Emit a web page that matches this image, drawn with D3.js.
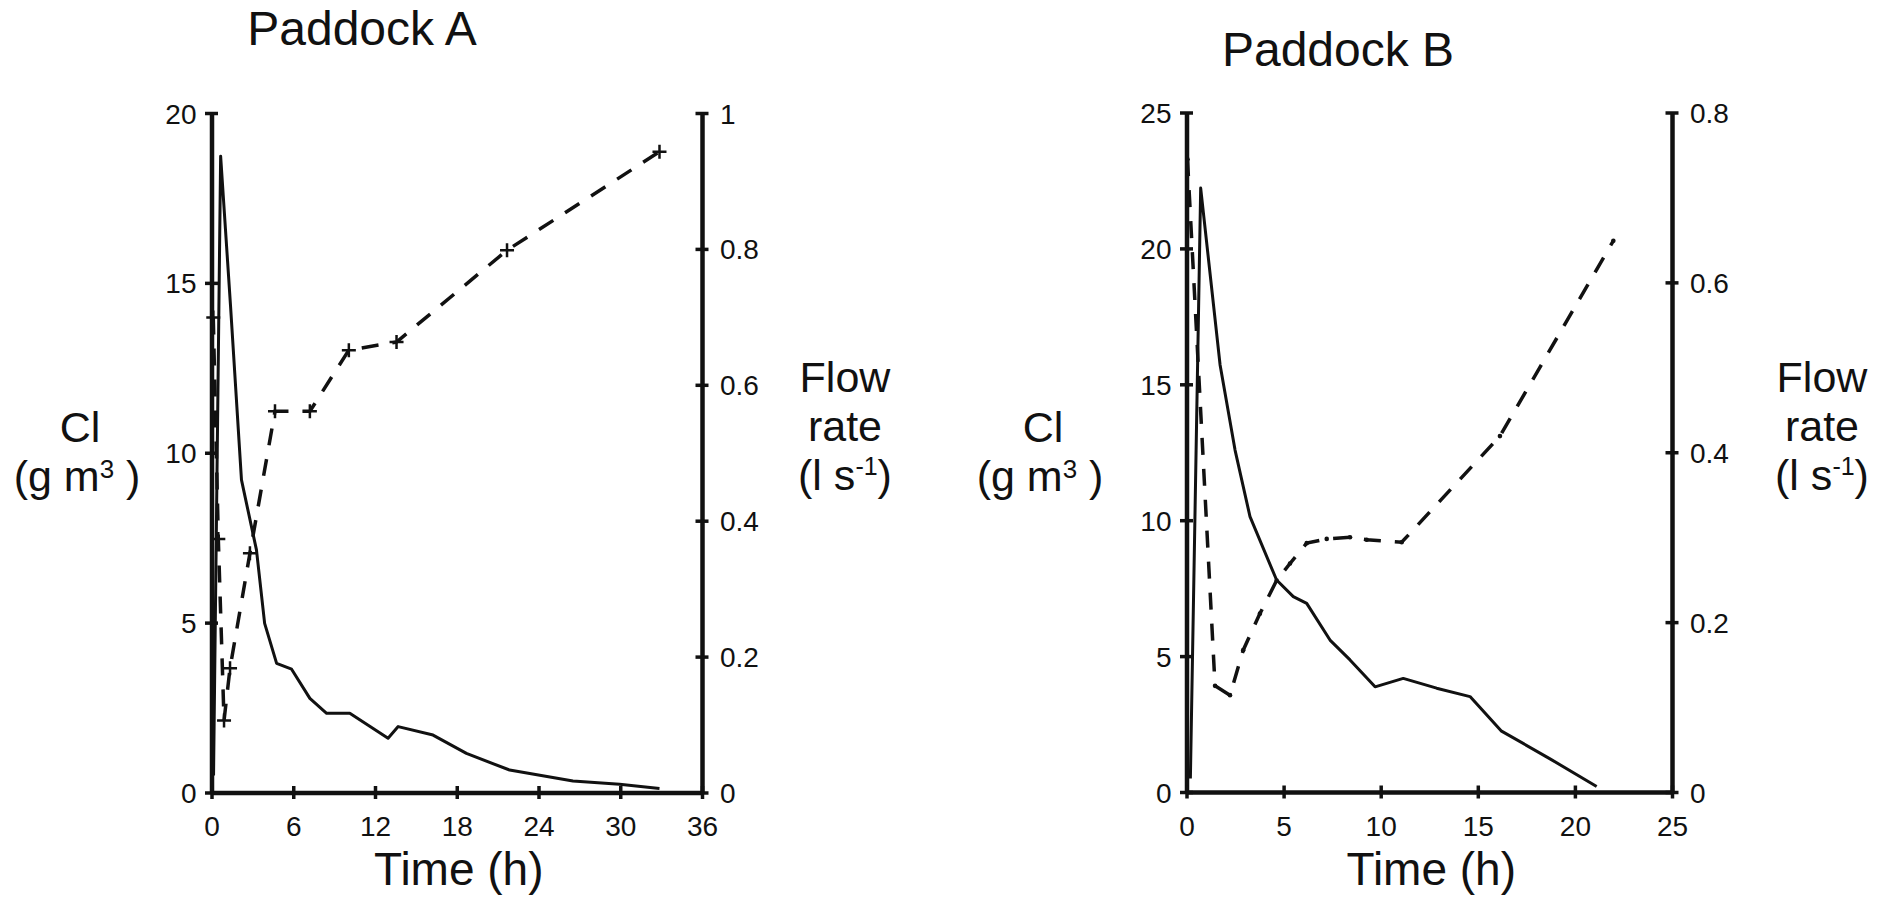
<!DOCTYPE html>
<html>
<head>
<meta charset="utf-8">
<script src="https://cdn.jsdelivr.net/npm/d3@7/dist/d3.min.js"></script>
<style>
  html, body { margin: 0; padding: 0; background: #fff; }
  svg { display: block; }
  text { font-family: "Liberation Sans", Arial, Helvetica, sans-serif; fill: #111; }
</style>
</head>
<body>
<svg id="chart" width="1883" height="900"></svg>
<script>
// ---------------- DATA ----------------
// Paddock A – chloride (solid line)
const timeA_cl = [0.15, 0.67, 1.4, 2.2, 3.3, 3.9, 4.78, 5.88, 7.22, 8.45, 10.15, 12.96, 13.7, 16.26, 18.71, 21.88, 26.53, 29.95, 32.88];
const clA      = [0.5, 18.73, 14.3, 9.2, 7.14, 4.98, 3.8, 3.63, 2.77, 2.33, 2.33, 1.6, 1.94, 1.69, 1.15, 0.66, 0.34, 0.24, 0.12];
// Paddock A – flow rate (dashed line with + markers)
const timeA_flow = [0.13, 0.5, 0.92, 1.36, 2.82, 4.66, 7.22, 10.08, 13.58, 21.69, 32.88];
const flowA      = [0.699, 0.373, 0.106, 0.183, 0.352, 0.561, 0.561, 0.651, 0.663, 0.798, 0.943];

// Paddock B – chloride (solid line)
const timeB_cl = [0.2, 0.73, 1.73, 2.5, 3.27, 4.64, 5.5, 6.19, 7.39, 8.42, 9.71, 11.16, 12.88, 14.6, 16.2, 18.72, 21.12];
const clB      = [0.5, 22.22, 15.71, 12.58, 10.13, 7.8, 7.19, 6.94, 5.59, 4.86, 3.87, 4.18, 3.82, 3.51, 2.25, 1.22, 0.2];
// Paddock B – flow rate (dashed line)
const timeB_flow = [0.05, 1.47, 2.24, 2.92, 3.78, 4.64, 5.33, 6.19, 7.22, 8.42, 9.28, 11.08, 16.14, 21.98];
const flowB      = [0.745, 0.125, 0.114, 0.167, 0.21, 0.249, 0.269, 0.293, 0.298, 0.30, 0.297, 0.294, 0.419, 0.649];

// Tick values
const xTicksA    = [0, 6, 12, 18, 24, 30, 36];
const clTicksA   = [0, 5, 10, 15, 20];
const flowTicksA = [0, 0.2, 0.4, 0.6, 0.8, 1];
const xTicksB    = [0, 5, 10, 15, 20, 25];
const clTicksB   = [0, 5, 10, 15, 20, 25];
const flowTicksB = [0, 0.2, 0.4, 0.6, 0.8];

const titles = ["Paddock A", "Paddock B"];

// ---------------- DRAWING ----------------
const svg = d3.select("#chart");
const fmt = v => String(Math.round(v * 100) / 100);

function zip(ts, vs) { return ts.map((t, i) => ({ t: t, v: vs[i] })); }

function panel(cfg) {
  const g = svg.append("g");
  const x = d3.scaleLinear().domain([0, cfg.xMax]).range([cfg.x0, cfg.x1]);
  const yL = d3.scaleLinear().domain([0, cfg.clMax]).range([cfg.y0, cfg.yTop]);
  const yR = d3.scaleLinear().domain([0, cfg.flowMax]).range([cfg.y0, cfg.yTop]);

  // solid chloride line
  g.append("path")
    .datum(zip(cfg.tCl, cfg.cl))
    .attr("fill", "none").attr("stroke", "#111").attr("stroke-width", 3)
    .attr("stroke-linejoin", "round")
    .attr("d", d3.line().x(d => x(d.t)).y(d => yL(d.v)));

  // dashed flow line
  const fdata = zip(cfg.tFlow, cfg.flow);
  g.append("path")
    .datum(fdata)
    .attr("fill", "none").attr("stroke", "#111").attr("stroke-width", 3.5)
    .attr("stroke-dasharray", "17,14")
    .attr("d", d3.line().x(d => x(d.t)).y(d => yR(d.v)));

  if (cfg.marker === "plus") {
    g.selectAll("path.mk").data(fdata).enter().append("path")
      .attr("class", "mk")
      .attr("transform", d => `translate(${x(d.t)},${yR(d.v)})`)
      .attr("d", "M-7,0H7M0,-7V7")
      .attr("stroke", "#111").attr("stroke-width", 2.5).attr("fill", "none");
  } else {
    g.selectAll("circle.mk").data(fdata).enter().append("circle")
      .attr("class", "mk")
      .attr("cx", d => x(d.t)).attr("cy", d => yR(d.v)).attr("r", 2.3)
      .attr("fill", "#111");
  }

  // axes
  function styleAxis(sel, orient) {
    sel.select(".domain").attr("stroke", "#111").attr("stroke-width", 4.5);
    sel.selectAll(".tick line").attr("stroke", "#111").attr("stroke-width", 3.5);
    if (orient === "v") sel.selectAll(".tick line").attr("x1", -6.5).attr("x2", 6.5);
    else sel.selectAll(".tick line").attr("y1", -6.5).attr("y2", 6.5);
    sel.selectAll(".tick text").style("font-size", "28px").attr("fill", "#111");
  }

  const axL = g.append("g").attr("transform", `translate(${cfg.x0},0)`)
    .call(d3.axisLeft(yL).tickValues(cfg.clTicks).tickFormat(fmt).tickSizeOuter(0).tickSizeInner(6).tickPadding(9));
  styleAxis(axL, "v");
  axL.selectAll(".tick text").attr("dy", "0.36em");

  const axR = g.append("g").attr("transform", `translate(${cfg.x1},0)`)
    .call(d3.axisRight(yR).tickValues(cfg.flowTicks).tickFormat(fmt).tickSizeOuter(0).tickSizeInner(6).tickPadding(12));
  styleAxis(axR, "v");
  axR.selectAll(".tick text").attr("dy", "0.36em");

  const axB = g.append("g").attr("transform", `translate(0,${cfg.y0})`)
    .call(d3.axisBottom(x).tickValues(cfg.xTicks).tickFormat(fmt).tickSizeOuter(0).tickSizeInner(6).tickPadding(18));
  styleAxis(axB, "h");

  // title
  g.append("text").attr("x", cfg.titleX).attr("y", cfg.titleY)
    .attr("text-anchor", "middle").style("font-size", "48px").text(cfg.title);

  // left axis label
  const t1 = g.append("text").attr("y", 442)
    .attr("text-anchor", "middle").style("font-size", "43px");
  t1.append("tspan").attr("x", cfg.clLabelX).text("Cl");
  const t2 = g.append("text").attr("x", cfg.clLabelX - 3).attr("y", 491)
    .attr("text-anchor", "middle").style("font-size", "43px");
  t2.append("tspan").text("(g m");
  t2.append("tspan").attr("dy", -13).style("font-size", "26px").text("3");
  t2.append("tspan").attr("dy", 13).text(" )");

  // right axis label
  g.append("text").attr("x", cfg.flowLabelX).attr("y", 392)
    .attr("text-anchor", "middle").style("font-size", "43px").text("Flow");
  g.append("text").attr("x", cfg.flowLabelX).attr("y", 441)
    .attr("text-anchor", "middle").style("font-size", "43px").text("rate");
  const t3 = g.append("text").attr("x", cfg.flowLabelX).attr("y", 490)
    .attr("text-anchor", "middle").style("font-size", "43px");
  t3.append("tspan").text("(l s");
  t3.append("tspan").attr("dy", -15).style("font-size", "25px").text("-1");
  t3.append("tspan").attr("dy", 15).text(")");

  // x axis label
  g.append("text").attr("x", (cfg.x0 + cfg.x1) / 2 + 2).attr("y", 885)
    .attr("text-anchor", "middle").style("font-size", "46px").text("Time (h)");
}

panel({
  title: titles[0], titleX: 362, titleY: 45,
  x0: 211.5, x1: 702, y0: 792.5, yTop: 113,
  xMax: 36, clMax: 20, flowMax: 1,
  xTicks: xTicksA, clTicks: clTicksA, flowTicks: flowTicksA,
  tCl: timeA_cl, cl: clA, tFlow: timeA_flow, flow: flowA,
  marker: "plus", clLabelX: 80, flowLabelX: 845
});

panel({
  title: titles[1], titleX: 1338, titleY: 66,
  x0: 1186.5, x1: 1672, y0: 792, yTop: 112.5,
  xMax: 25, clMax: 25, flowMax: 0.8,
  xTicks: xTicksB, clTicks: clTicksB, flowTicks: flowTicksB,
  tCl: timeB_cl, cl: clB, tFlow: timeB_flow, flow: flowB,
  marker: "dot", clLabelX: 1043, flowLabelX: 1822
});
</script>
</body>
</html>
